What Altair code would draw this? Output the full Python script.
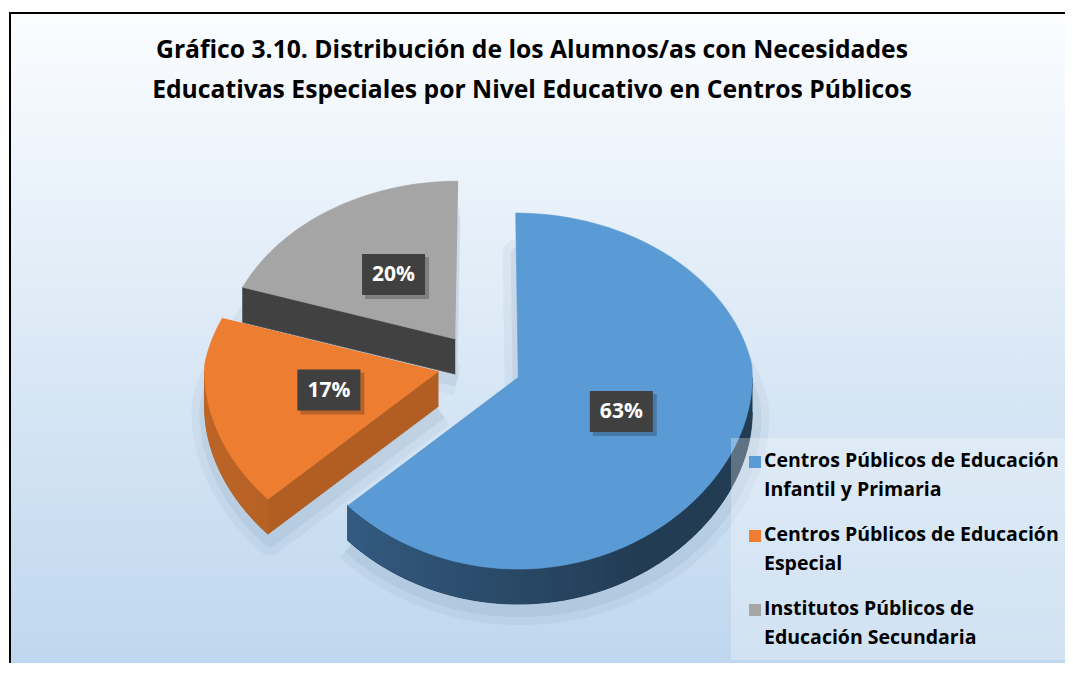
import math
import altair as alt
import pandas as pd

# ---------------- data ----------------
categories = [
    "Centros Públicos de Educación Infantil y Primaria",
    "Centros Públicos de Educación Especial",
    "Institutos Públicos de Educación Secundaria",
]
legend_line1 = ["Centros Públicos de Educación", "Centros Públicos de Educación", "Institutos Públicos de"]
legend_line2 = ["Infantil y Primaria", "Especial", "Educación Secundaria"]
values = [63, 17, 20]
top_colors = ["#5B9BD5", "#ED7D31", "#A5A5A5"]
side_light = ["#3D6D9B", "#BC6628", "#505050"]
side_dark = ["#223C54", "#AE5A1E", "#3C3C3C"]
cut_colors = ["#2B4C6E", "#B25E22", "#414141"]
title_lines = [
    "Gráfico 3.10. Distribución de los Alumnos/as con Necesidades",
    "Educativas Especiales por Nivel Educativo en Centros Públicos",
]

# ---------------- layout / style ----------------
W, H = 1057, 655
CX, CY = 471.6, 356.4
RX, RY, K = 234.0, 176.0, 14.0
XV = 479.0          # horizontal vanishing axis of the perspective
PERSP = 0.09
EXPL = 0.18
DEPTH = 35.0
FONT = "Open Sans"


def proj(u, v, dz=0.0):
    xf = CX + RX * u
    return XV + (xf - XV) * (1 + PERSP * min(v, 0.0)), CY + RY * v + K * v * v + dz


def mix(c1, c2, t):
    a = [int(c1[i:i + 2], 16) for i in (1, 3, 5)]
    b = [int(c2[i:i + 2], 16) for i in (1, 3, 5)]
    return "#" + "".join("%02x" % round(a[j] + (b[j] - a[j]) * t) for j in range(3))


total = float(sum(values))
rows_side, rows_strip, rows_top, rows_shadow, label_rows = [], [], [], [], []
start = 0.0
pid = 0
for s, val in enumerate(values):
    a0 = start
    a1 = start + 360.0 * val / total
    start = a1
    m = math.radians((a0 + a1) / 2)
    ou, ov = EXPL * math.sin(m), -EXPL * math.cos(m)

    def rim(a_deg, dz=0.0):
        a = math.radians(a_deg)
        return proj(ou + math.sin(a), ov - math.cos(a), dz)

    vx, vy = proj(ou, ov)

    # top face (and its shadow copy)
    pts = [(vx, vy)]
    n = max(2, int((a1 - a0) / 1.0))
    for j in range(n + 1):
        pts.append(rim(a0 + (a1 - a0) * j / n))
    for i, (x, y) in enumerate(pts):
        rows_top.append({"pid": pid, "i": i, "x": x, "y": y, "fill": top_colors[s]})
        rows_shadow.append({"pid": pid, "i": i, "x": x + 2, "y": y + DEPTH + 6})
    pid += 1

    # outer rim side: base polygon + shading strips
    lo, hi = max(a0, 90.0), min(a1, 270.0)
    if hi > lo:
        n = max(1, int((hi - lo) / 2.0))
        base = [rim(lo + (hi - lo) * j / n) for j in range(n + 1)]
        base += [rim(lo + (hi - lo) * j / n, DEPTH) for j in range(n, -1, -1)]
        for i, (x, y) in enumerate(base):
            rows_side.append({"pid": pid, "i": i, "x": x, "y": y, "fill": side_dark[s]})
        pid += 1
        for j in range(n):
            b0 = lo + (hi - lo) * j / n
            b1 = min(hi, lo + (hi - lo) * (j + 1) / n + 0.6)
            t = min(1.0, max(0.0, ((b0 + b1) / 2 - 150.0) / 120.0))
            col = mix(side_dark[s], side_light[s], t)
            quad = [rim(b0), rim(b1), rim(b1, DEPTH), rim(b0, DEPTH)]
            for i, (x, y) in enumerate(quad):
                rows_strip.append({"pid": pid, "i": i, "x": x, "y": y, "fill": col})
            pid += 1

    # radial cut faces facing the viewer
    for a_edge, normal in ((a0, a0 - 90.0), (a1, a1 + 90.0)):
        if -math.cos(math.radians(normal)) > 0.05:
            rx_, ry_ = rim(a_edge)
            rbx, rby = rim(a_edge, DEPTH)
            quad = [(vx, vy), (rx_, ry_), (rbx, rby), (vx, vy + DEPTH)]
            for i, (x, y) in enumerate(quad):
                rows_side.append({"pid": pid, "i": i, "x": x, "y": y, "fill": cut_colors[s]})
            pid += 1

    # label position
    tl = 0.48
    lx, ly = proj(ou + tl * math.sin(m), ov - tl * math.cos(m))
    label_rows.append({"x": lx, "y": ly, "label": "%d%%" % val})

side_df = pd.DataFrame(rows_side)
strip_df = pd.DataFrame(rows_strip)
top_df = pd.DataFrame(rows_top)
shadow_df = pd.DataFrame(rows_shadow)
lab_df = pd.DataFrame(label_rows)

xs = alt.Scale(domain=[0, W], nice=False, zero=False)
ys = alt.Scale(domain=[H, 0], nice=False, zero=False)
X = lambda f: alt.X(f, type="quantitative", scale=xs, axis=None)
Y = lambda f: alt.Y(f, type="quantitative", scale=ys, axis=None)
X2 = lambda f: alt.X2(f)
Y2 = lambda f: alt.Y2(f)

one = pd.DataFrame({"k": [0]})

# background with gradient, border on left and top
bg = alt.Chart(one).mark_rect(
    fill=alt.Gradient(
        gradient="linear",
        stops=[alt.GradientStop(color="#FBFDFF", offset=0),
               alt.GradientStop(color="#DCE9F6", offset=0.5),
               alt.GradientStop(color="#BFD7EE", offset=1)],
        x1=0, x2=0, y1=0, y2=1,
    ),
).encode(x=alt.value(2), x2=alt.value(W), y=alt.value(5), y2=alt.value(H))
border_l = alt.Chart(one).mark_rule(color="#000000", strokeWidth=2).encode(
    x=alt.value(2), y=alt.value(4), y2=alt.value(H))
border_t = alt.Chart(one).mark_rule(color="#000000", strokeWidth=2).encode(
    x=alt.value(1), x2=alt.value(W), y=alt.value(5))

# title
title_df = pd.DataFrame({"t": title_lines, "row": [0, 1]})
title = alt.Chart(title_df).transform_calculate(
    tx="524", ty="50 + datum.row * 40"
).mark_text(font=FONT, fontSize=24.7, fontWeight="bold", color="#000000", align="center", baseline="alphabetic").encode(
    x=X("tx:Q"), y=Y("ty:Q"), text="t:N"
)

poly = lambda df, **kw: alt.Chart(df).mark_line(**kw).encode(
    x=X("x:Q"), y=Y("y:Q"), detail="pid:N", order="i:Q",
)
shadow1 = poly(shadow_df, color="#35577A", fill="#35577A", opacity=0.05, strokeWidth=30, strokeJoin="round")
shadow2 = poly(shadow_df, color="#35577A", fill="#35577A", opacity=0.07, strokeWidth=14, strokeJoin="round")
sides = poly(side_df, strokeWidth=0.8, strokeJoin="round").encode(
    fill=alt.Fill("fill:N", scale=None), stroke=alt.Stroke("fill:N", scale=None))
strips = poly(strip_df, strokeWidth=0).encode(fill=alt.Fill("fill:N", scale=None))
tops = poly(top_df, strokeWidth=0.6, strokeJoin="round").encode(
    fill=alt.Fill("fill:N", scale=None), stroke=alt.Stroke("fill:N", scale=None))

# data labels in dark boxes
lab_base = alt.Chart(lab_df).transform_calculate(
    x1="datum.x - 31.5", x2="datum.x + 31.5", y1="datum.y - 20.5", y2="datum.y + 20.5",
    sx1="datum.x - 28.5", sx2="datum.x + 35.5", sy1="datum.y - 17.5", sy2="datum.y + 24.5",
)
lab_shadow = lab_base.mark_rect(color="#000000", opacity=0.22).encode(
    x=X("sx1:Q"), x2=X2("sx2:Q"), y=Y("sy1:Q"), y2=Y2("sy2:Q")
)
lab_box = lab_base.mark_rect(color="#404040").encode(
    x=X("x1:Q"), x2=X2("x2:Q"), y=Y("y1:Q"), y2=Y2("y2:Q")
)
lab_text = lab_base.mark_text(font=FONT, fontSize=21, fontWeight="bold", color="#FFFFFF",
                              align="center", baseline="middle", dy=1).encode(
    x=X("x:Q"), y=Y("y:Q"), text="label:N"
)

# legend
leg_df = pd.DataFrame({"l1": legend_line1, "l2": legend_line2,
                       "col": top_colors, "idx": [0, 1, 2]})
leg_bg = alt.Chart(one).mark_rect(fill="#FFFFFF", opacity=0.28).encode(
    x=alt.value(723), x2=alt.value(W), y=alt.value(430), y2=alt.value(652)
)
leg_base = alt.Chart(leg_df).transform_calculate(
    yb="459 + datum.idx * 74",
    mx1="741", mx2="753", my1="datum.yb - 11", my2="datum.yb + 1",
    tx="756", ty2="datum.yb + 29",
)
leg_sym = leg_base.mark_rect().encode(
    x=X("mx1:Q"), x2=X2("mx2:Q"), y=Y("my1:Q"), y2=Y2("my2:Q"),
    fill=alt.Fill("col:N", scale=None),
)
leg_t1 = leg_base.mark_text(font=FONT, fontSize=19.5, fontWeight="bold", color="#000000",
                            align="left", baseline="alphabetic").encode(
    x=X("tx:Q"), y=Y("yb:Q"), text="l1:N"
)
leg_t2 = leg_base.mark_text(font=FONT, fontSize=19.5, fontWeight="bold", color="#000000",
                            align="left", baseline="alphabetic").encode(
    x=X("tx:Q"), y=Y("ty2:Q"), text="l2:N"
)

chart = alt.layer(
    bg, border_l, border_t, title, shadow1, shadow2, sides, strips, tops,
    lab_shadow, lab_box, lab_text, leg_bg, leg_sym, leg_t1, leg_t2
).properties(
    width=W, height=H, padding=0, autosize=alt.AutoSizeParams(type="none")
).configure_view(stroke=None)

chart.save("out.html", embed_options={"renderer": "svg", "actions": False})
